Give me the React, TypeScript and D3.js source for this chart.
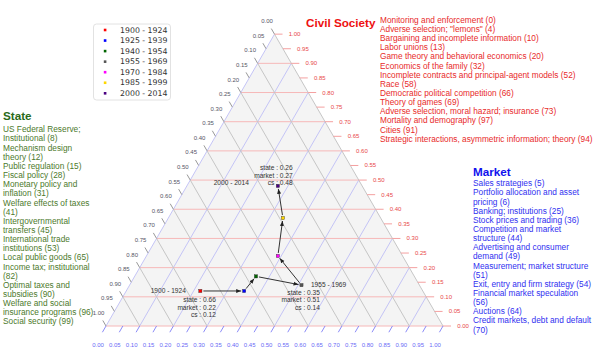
import React from 'react';
import * as d3 from 'd3';

// periods and their shares (state / market / civil society)
const periods = ['1900 - 1924', '1925 - 1939', '1940 - 1954', '1955 - 1969', '1970 - 1984', '1985 - 1999', '2000 - 2014'];
const stateShare = [0.66, 0.53, 0.47, 0.35, 0.37, 0.29, 0.26];
const marketShare = [0.22, 0.35, 0.36, 0.51, 0.39, 0.34, 0.27];
const csShare = [0.12, 0.12, 0.17, 0.14, 0.24, 0.37, 0.48];
const periodColors = ['#ff0000', '#0000ff', '#006400', '#555555', '#ff00ff', '#ffd700', '#4b0082'];

const civilTopics = [
  'Monitoring and enforcement (0)',
  'Adverse selection; "lemons" (4)',
  'Bargaining and incomplete information (10)',
  'Labor unions (13)',
  'Game theory and behavioral economics (20)',
  'Economics of the family (32)',
  'Incomplete contracts and principal-agent models (52)',
  'Race (58)',
  'Democratic political competition (66)',
  'Theory of games (69)',
  'Adverse selection, moral hazard; insurance (73)',
  'Mortality and demography (97)',
  'Cities (91)',
  'Strategic interactions, asymmetric information; theory (94)',
];
const stateTopics = [
  'US Federal Reserve; Institutional (8)',
  'Mechanism design theory (12)',
  'Public regulation (15)',
  'Fiscal policy (28)',
  'Monetary policy and inflation (31)',
  'Welfare effects of taxes (41)',
  'Intergovernmental transfers (45)',
  'International trade institutions (53)',
  'Local public goods (65)',
  'Income tax; institutional (82)',
  'Optimal taxes and subsidies (90)',
  'Welfare and social insurance programs (96)',
  'Social security (99)',
];
const marketTopics = [
  'Sales strategies (5)',
  'Portfolio allocation and asset pricing (6)',
  'Banking; institutions (25)',
  'Stock prices and trading (36)',
  'Competition and market structure (44)',
  'Advertising and consumer demand (49)',
  'Measurement; market structure (51)',
  'Exit, entry and firm strategy (54)',
  'Financial market speculation (56)',
  'Auctions (64)',
  'Credit markets, debt and default (70)',
];

// which periods get an annotation, and where the text sits
const notes = [
  { i: 0, lx: -14.5, ly: 0, anchor: 'end', sx: 15.5, sy: 8.5 },
  { i: 3, lx: 9.5, ly: -0.8, anchor: 'start', sx: 18.5, sy: 7 },
  { i: 6, lx: -29, ly: -3.8, anchor: 'end', sx: 14.8, sy: -18.5 },
];

const sideLen = 337;
const x0 = 106;
const yBase = 326;
const triH = (sideLen * Math.sqrt(3)) / 2;

const xs = d3.scaleLinear().domain([0, 1]).range([x0, x0 + sideLen]);
const ys = d3.scaleLinear().domain([0, 1]).range([yBase, yBase - triH]);

// market + civil society fix the point, state is the remainder
const pt = (market: number, cs: number): [number, number] => [xs(market + cs / 2), ys(cs)];

const fmt = d3.format('.2f');
const tickFont = "'Liberation Sans', Arial, sans-serif";

let ctx: CanvasRenderingContext2D | null = null;
function wrap(text: string, width: number, font: string) {
  if (!ctx) ctx = document.createElement('canvas').getContext('2d');
  ctx!.font = font;
  const words = text.split(' ');
  const lines: string[] = [];
  let cur = '';
  words.forEach(w => {
    const test = cur ? cur + ' ' + w : w;
    if (cur && ctx!.measureText(test).width > width) {
      lines.push(cur);
      cur = w;
    } else cur = test;
  });
  if (cur) lines.push(cur);
  return lines;
}

const TopicList = ({ title, items, x, titleY, firstY, width, titleColor, color }: any) => {
  const lines: string[] = width ? items.flatMap((t: string) => wrap(t, width, `8.3px 'Liberation Sans'`)) : items;
  return (
    <g fontFamily={tickFont}>
      <text x={title.x} y={titleY} fontSize={11.7} fontWeight="bold" fill={titleColor}>{title.text}</text>
      {lines.map((l, k) => (
        <text key={k} x={x} y={firstY + k * 9.15} fontSize={8.3} fill={color}>{l}</text>
      ))}
    </g>
  );
};

export default function App() {
  const grid = d3.range(0, 10).map(k => k / 10);
  const ticks = d3.range(0, 21).map(k => k / 20);
  const tl = 8;
  const c60 = 0.5, s60 = Math.sqrt(3) / 2;

  const pts = periods.map((_, i) => pt(marketShare[i], csShare[i]));

  return (
    <svg width={600} height={354} style={{ position: 'absolute', left: 0, top: 0 }}>
      <defs>
        <marker id="arr" viewBox="0 0 10 10" refX={10} refY={5} markerWidth={5} markerHeight={5} orient="auto">
          <path d="M0,1 L10,5 L0,9 z" fill="#222" />
        </marker>
      </defs>

      {/* triangle body */}
      <path
        d={`M${pt(0, 0).join(',')} L${pt(1, 0).join(',')} L${pt(0, 1).join(',')} Z`}
        fill="#f4f4f4"
      />

      {/* civil society lines (horizontal) */}
      {grid.map(c => {
        const a = pt(0, c), b = pt(1 - c, c);
        return <line key={'c' + c} x1={a[0]} y1={a[1]} x2={b[0]} y2={b[1]} stroke="#f6b8b8" strokeWidth={1} />;
      })}
      {/* market lines */}
      {grid.map(m => {
        const a = pt(m, 0), b = pt(m, 1 - m);
        return <line key={'m' + m} x1={a[0]} y1={a[1]} x2={b[0]} y2={b[1]} stroke="#c4c4f6" strokeWidth={1} />;
      })}
      {/* state lines */}
      {grid.map(s => {
        const a = pt(1 - s, 0), b = pt(0, 1 - s);
        return <line key={'s' + s} x1={a[0]} y1={a[1]} x2={b[0]} y2={b[1]} stroke="#c6c6c6" strokeWidth={1} />;
      })}

      {/* right axis: civil society */}
      {ticks.map(c => {
        const [x, y] = pt(1 - c, c);
        return (
          <g key={'rt' + c}>
            <line x1={x} y1={y} x2={x + tl} y2={y} stroke="#f4a0a0" />
            <text x={x + 20} y={y + 2} fontSize={6} fontFamily={tickFont} fill="#e84848" textAnchor="middle">{fmt(c)}</text>
          </g>
        );
      })}
      {/* bottom axis: market */}
      {ticks.map(m => {
        const [x, y] = pt(m, 0);
        return (
          <g key={'bt' + m}>
            <line x1={x} y1={y} x2={x - tl * c60 * 0.9} y2={y + tl * s60 * 0.9} stroke="#8c8cf8" />
            <text x={x - 8} y={y + 21} fontSize={6} fontFamily={tickFont} fill="#6a6af6" textAnchor="middle">{fmt(m)}</text>
          </g>
        );
      })}
      {/* left axis: state */}
      {ticks.map(s => {
        const [x, y] = pt(0, 1 - s);
        return (
          <g key={'lt' + s}>
            <line x1={x} y1={y} x2={x - tl * c60 * 0.8} y2={y - tl * s60 * 0.8} stroke="#999" />
            <text x={x - 7.5} y={y - 11} fontSize={6} fontFamily={tickFont} fill="#556" textAnchor="middle">{fmt(s)}</text>
          </g>
        );
      })}

      {/* trajectory */}
      {pts.slice(1).map((p, k) => {
        const a = pts[k];
        const dx = p[0] - a[0], dy = p[1] - a[1];
        const len = Math.hypot(dx, dy);
        const ux = dx / len, uy = dy / len;
        return (
          <line key={'seg' + k}
            x1={a[0] + ux * 3} y1={a[1] + uy * 3}
            x2={p[0] - ux * 3} y2={p[1] - uy * 3}
            stroke="#333" strokeWidth={1} markerEnd="url(#arr)" />
        );
      })}
      {pts.map((p, i) => (
        <rect key={'pt' + i} x={p[0] - 1.6} y={p[1] - 1.6} width={3.2} height={3.2}
          fill={periodColors[i]} stroke="#333" strokeWidth={0.4} />
      ))}

      {/* annotations */}
      {notes.map(n => {
        const [px, py] = pts[n.i];
        const vals = [['state', stateShare[n.i]], ['market', marketShare[n.i]], ['cs', csShare[n.i]]] as [string, number][];
        return (
          <g key={'n' + n.i} fontFamily={tickFont} fontSize={6.6} fill="#333">
            <text x={px + n.lx} y={py + n.ly} dominantBaseline="central" textAnchor={n.anchor}>{periods[n.i]}</text>
            {vals.map(([k, v], j) => (
              <text key={k} x={px + n.sx} y={py + n.sy + j * 7.7} dominantBaseline="central" textAnchor="end">
                {`${k} : ${fmt(v)}`}
              </text>
            ))}
          </g>
        );
      })}

      {/* legend */}
      <rect x={93.5} y={24} width={77} height={76} rx={3} fill="#fff" stroke="#e2e2e2" />
      {periods.map((p, i) => (
        <g key={'lg' + i}>
          <rect x={103.8} y={30 + i * 10.55 - 1.3} width={2.6} height={2.6} fill={periodColors[i]} />
          <text x={120} y={30 + i * 10.55} dominantBaseline="central" fontSize={7.8} fontFamily="'DejaVu Sans', sans-serif" fill="#333">{p}</text>
        </g>
      ))}

      {/* topic lists */}
      <TopicList title={{ text: 'Civil Society', x: 306 }} titleY={26.5} items={civilTopics}
        x={380} firstY={22.8} width={0} titleColor="#ee1111" color="#e82a2a" />
      <TopicList title={{ text: 'State', x: 3 }} titleY={119.5} items={stateTopics}
        x={3} firstY={132.3} width={92} titleColor="#2a6a1a" color="#4c7a2c" />
      <TopicList title={{ text: 'Market', x: 473 }} titleY={175.8} items={marketTopics}
        x={473} firstY={186.2} width={120} titleColor="#1111ee" color="#3030f0" />
    </svg>
  );
}
